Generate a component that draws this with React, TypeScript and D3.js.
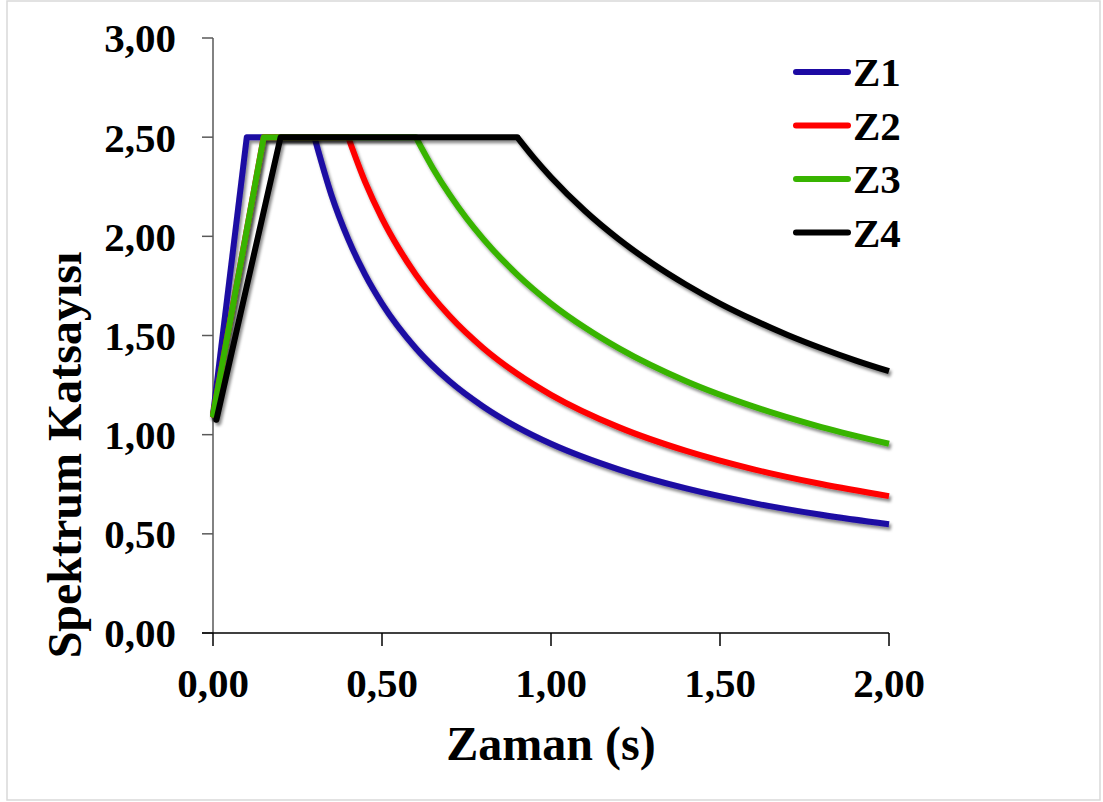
import React from "react";
import * as d3 from "d3";

const seriesNames = ["Z1", "Z2", "Z3", "Z4"];
const seriesColors = ["#1d0aa3", "#ff0000", "#38b400", "#000000"];

const z1T = [0.0, 0.1, 0.3, 0.35, 0.4, 0.45, 0.5, 0.6, 0.7, 0.8, 0.9, 1.0, 1.2, 1.4, 1.6, 1.8, 2.0];
const z1S = [1.1, 2.5, 2.5, 2.21, 1.986, 1.807, 1.661, 1.436, 1.269, 1.141, 1.038, 0.954, 0.825, 0.729, 0.655, 0.596, 0.548];

const z2T = [0.0, 0.15, 0.4, 0.45, 0.5, 0.55, 0.6, 0.7, 0.8, 0.9, 1.0, 1.2, 1.4, 1.6, 1.8, 2.0];
const z2S = [1.1, 2.5, 2.5, 2.275, 2.091, 1.938, 1.807, 1.598, 1.436, 1.307, 1.201, 1.038, 0.918, 0.825, 0.751, 0.69];

const z3T = [0.0, 0.15, 0.6, 0.65, 0.7, 0.75, 0.8, 0.9, 1.0, 1.1, 1.2, 1.4, 1.6, 1.8, 2.0];
const z3S = [1.1, 2.5, 2.5, 2.345, 2.21, 2.091, 1.986, 1.807, 1.661, 1.54, 1.436, 1.269, 1.141, 1.038, 0.954];

const z4T = [0.01, 0.2, 0.9, 0.95, 1.0, 1.1, 1.2, 1.3, 1.4, 1.5, 1.6, 1.7, 1.8, 1.9, 2.0];
const z4S = [1.075, 2.5, 2.5, 2.394, 2.298, 2.129, 1.986, 1.863, 1.756, 1.661, 1.578, 1.503, 1.436, 1.375, 1.32];

const seriesT = [z1T, z2T, z3T, z4T];
const seriesS = [z1S, z2S, z3S, z4S];

const xTicks = [0, 0.5, 1.0, 1.5, 2.0];
const yTicks = [0, 0.5, 1.0, 1.5, 2.0, 2.5, 3.0];

const W = 1103;
const H = 802;
const FONT = "'Liberation Serif', 'Times New Roman', serif";

export default function App() {
  const x = d3.scaleLinear().domain([0, 2]).range([213, 889]);
  const y = d3.scaleLinear().domain([0, 3]).range([633, 38]);
  const fmt = (v: number) => d3.format(".2f")(v).replace(".", ",");

  const linear = d3
    .line<[number, number]>()
    .x((d) => x(d[0]))
    .y((d) => y(d[1]))
    .curve(d3.curveLinear);
  const smooth = d3
    .line<[number, number]>()
    .x((d) => x(d[0]))
    .y((d) => y(d[1]))
    .curve(d3.curveMonotoneX);

  return (
    <svg
      width={W}
      height={H}
      style={{ position: "absolute", left: 0, top: 0, background: "#fff" }}
      fontFamily={FONT}
    >
      <defs>
        <filter id="shadow" x="-10%" y="-10%" width="130%" height="130%">
          <feDropShadow dx="2" dy="3" stdDeviation="1.8" floodColor="#000" floodOpacity="0.45" />
        </filter>
      </defs>
      <rect x={0} y={0} width={W} height={H} fill="#fff" />
      <rect x={7} y={1} width={1093} height={799} fill="none" stroke="#d9d9d9" strokeWidth={1.5} />

      {/* Y axis */}
      <line x1={213} x2={213} y1={y(3)} y2={y(0)} stroke="#595959" strokeWidth={1.5} />
      {yTicks.map((t) => (
        <g key={"y" + t}>
          <line x1={202} x2={213} y1={y(t)} y2={y(t)} stroke="#595959" strokeWidth={1.5} />
          <text
            x={176}
            y={y(t)}
            dy="0.35em"
            textAnchor="end"
            fontSize={41}
            fontWeight="bold"
            fill="#000"
          >
            {fmt(t)}
          </text>
        </g>
      ))}

      {/* X axis */}
      <line x1={202} x2={889} y1={y(0)} y2={y(0)} stroke="#000" strokeWidth={1.5} />
      {xTicks.map((t) => (
        <g key={"x" + t}>
          <line x1={x(t)} x2={x(t)} y1={y(0)} y2={646} stroke="#000" strokeWidth={1.5} />
          <text x={x(t)} y={697} textAnchor="middle" fontSize={41} fontWeight="bold" fill="#000">
            {fmt(t)}
          </text>
        </g>
      ))}

      {/* Series */}
      {seriesNames.map((name, i) => {
        const pts: [number, number][] = seriesT[i].map((t, j) => [t, seriesS[i][j]]);
        const head = pts.slice(0, 3);
        const tail = pts.slice(2);
        return (
          <g key={name} filter="url(#shadow)">
            <path
              d={linear(head) || ""}
              fill="none"
              stroke={seriesColors[i]}
              strokeWidth={6}
              strokeLinejoin="round"
              strokeLinecap="round"
            />
            <path
              d={smooth(tail) || ""}
              fill="none"
              stroke={seriesColors[i]}
              strokeWidth={6}
              strokeLinejoin="round"
              strokeLinecap="butt"
            />
          </g>
        );
      })}

      {/* Legend */}
      {seriesNames.map((name, i) => {
        const ly = 72 + i * 53.5;
        return (
          <g key={"lg" + name}>
            <line
              x1={796}
              x2={848}
              y1={ly}
              y2={ly}
              stroke={seriesColors[i]}
              strokeWidth={6}
              strokeLinecap="round"
            />
            <text x={853} y={ly + 14} fontSize={41} fontWeight="bold" fill="#000">
              {name}
            </text>
          </g>
        );
      })}

      {/* Axis titles */}
      <text x={551} y={760} textAnchor="middle" fontSize={48} fontWeight="bold" fill="#000">
        Zaman (s)
      </text>
      <text
        transform={`translate(81, 455) rotate(-90)`}
        textAnchor="middle"
        fontSize={48}
        fontWeight="bold"
        fill="#000"
      >
        Spektrum Katsayısı
      </text>
    </svg>
  );
}
